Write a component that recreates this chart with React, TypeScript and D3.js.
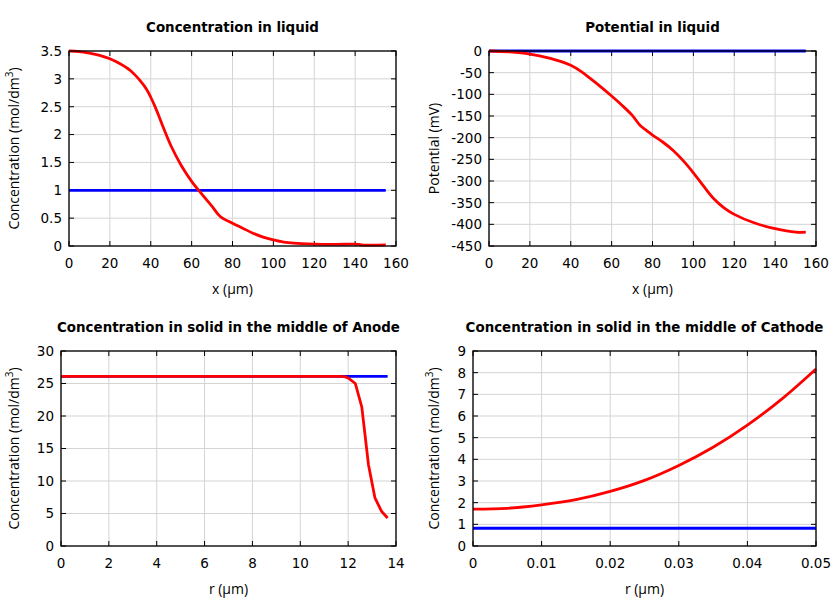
import React from "react";
import * as d3 from "d3";

// ---- Data ----
const liqConcX = [0, 5, 10, 15, 20, 25, 30, 35, 38, 40, 42, 44, 46, 48, 50, 55, 60, 65, 70, 74, 80, 85, 90, 95, 100, 105, 110, 120, 130, 142, 143, 155];
const liqConcRed = [3.5, 3.49, 3.46, 3.42, 3.36, 3.27, 3.15, 2.96, 2.81, 2.67, 2.51, 2.33, 2.14, 1.96, 1.79, 1.44, 1.16, 0.93, 0.71, 0.53, 0.41, 0.32, 0.23, 0.16, 0.11, 0.07, 0.05, 0.035, 0.03, 0.03, 0.02, 0.02];
const liqConcBlueX = [0, 155];
const liqConcBlue = [1.0, 1.0];

const liqPotX = [0, 10, 20, 30, 35, 40, 45, 50, 55, 60, 65, 70, 74, 77, 80, 85, 90, 95, 100, 105, 110, 115, 120, 130, 140, 150, 155];
const liqPotRed = [0, -2, -7, -17, -24, -33, -47, -65, -84, -104, -125, -148, -172, -183, -194, -210, -229, -253, -281, -312, -341, -362, -377, -397, -410, -418, -418];
const liqPotBlueX = [0, 155];
const liqPotBlue = [0, 0];

const anodeX = [0, 2, 4, 6, 8, 10, 11.6, 11.85, 12.0, 12.3, 12.57, 12.85, 13.12, 13.4, 13.65];
const anodeRed = [26.1, 26.1, 26.1, 26.1, 26.1, 26.1, 26.1, 26.05, 25.85, 25.0, 21.4, 12.5, 7.4, 5.3, 4.3];
const anodeBlueX = [0, 13.65];
const anodeBlue = [26.1, 26.1];

const cathX = [0, 0.005, 0.01, 0.015, 0.02, 0.025, 0.03, 0.035, 0.04, 0.045, 0.05];
const cathRed = [1.7, 1.74, 1.9, 2.14, 2.52, 3.03, 3.72, 4.56, 5.58, 6.78, 8.17];
const cathBlueX = [0, 0.05];
const cathBlue = [0.82, 0.82];

const ticksConcLiqY = [0, 0.5, 1, 1.5, 2, 2.5, 3, 3.5];
const ticksLiqX = [0, 20, 40, 60, 80, 100, 120, 140, 160];
const ticksPotY = [0, -50, -100, -150, -200, -250, -300, -350, -400, -450];
const ticksAnodeX = [0, 2, 4, 6, 8, 10, 12, 14];
const ticksAnodeY = [0, 5, 10, 15, 20, 25, 30];
const ticksCathX = [0, 0.01, 0.02, 0.03, 0.04, 0.05];
const ticksCathY = [0, 1, 2, 3, 4, 5, 6, 7, 8, 9];

type Panel = {
  title: string;
  xLabel: string;
  yLabel: string;
  yLabelSup?: boolean;
  x0: number; x1: number; y0: number; y1: number;
  xDomain: [number, number];
  yDomain: [number, number];
  xTicks: number[];
  yTicks: number[];
  redX: number[]; redY: number[];
  blueX: number[]; blueY: number[];
  yLabelX: number;
  smooth: boolean;
};

const panels: Panel[] = [
  {
    title: "Concentration in liquid", xLabel: "x (µm)", yLabel: "Concentration (mol/dm", yLabelSup: true,
    x0: 69, x1: 396, y0: 51, y1: 246, xDomain: [0, 160], yDomain: [0, 3.5],
    xTicks: ticksLiqX, yTicks: ticksConcLiqY,
    redX: liqConcX, redY: liqConcRed, blueX: liqConcBlueX, blueY: liqConcBlue, yLabelX: 14, smooth: true,
  },
  {
    title: "Potential in liquid", xLabel: "x (µm)", yLabel: "Potential (mV)",
    x0: 489, x1: 816, y0: 51, y1: 246, xDomain: [0, 160], yDomain: [-450, 0],
    xTicks: ticksLiqX, yTicks: ticksPotY,
    redX: liqPotX, redY: liqPotRed, blueX: liqPotBlueX, blueY: liqPotBlue, yLabelX: 434, smooth: true,
  },
  {
    title: "Concentration in solid in the middle of Anode", xLabel: "r (µm)", yLabel: "Concentration (mol/dm", yLabelSup: true,
    x0: 61, x1: 396, y0: 351, y1: 546, xDomain: [0, 14], yDomain: [0, 30],
    xTicks: ticksAnodeX, yTicks: ticksAnodeY,
    redX: anodeX, redY: anodeRed, blueX: anodeBlueX, blueY: anodeBlue, yLabelX: 14, smooth: false,
  },
  {
    title: "Concentration in solid in the middle of Cathode", xLabel: "r (µm)", yLabel: "Concentration (mol/dm", yLabelSup: true,
    x0: 473, x1: 816, y0: 351, y1: 546, xDomain: [0, 0.05], yDomain: [0, 9],
    xTicks: ticksCathX, yTicks: ticksCathY,
    redX: cathX, redY: cathRed, blueX: cathBlueX, blueY: cathBlue, yLabelX: 434, smooth: true,
  },
];

const tickFont = "'DejaVu Sans', sans-serif";
const labelFont = "'Open Sans', 'Noto Sans', sans-serif";

function PanelView({ p }: { p: Panel }) {
  const x = d3.scaleLinear().domain(p.xDomain).range([p.x0, p.x1]);
  const y = d3.scaleLinear().domain(p.yDomain).range([p.y1, p.y0]);
  const line = d3
    .line<[number, number]>()
    .x((d) => x(d[0]))
    .y((d) => y(d[1]))
    .curve(p.smooth ? d3.curveCatmullRom.alpha(0.5) : d3.curveLinear);
  const red = p.redX.map((v, i) => [v, p.redY[i]] as [number, number]);
  const blue = p.blueX.map((v, i) => [v, p.blueY[i]] as [number, number]);
  const fmt = (v: number) => String(+v.toFixed(4));
  const tl = 5;
  const cx = (p.x0 + p.x1) / 2;
  const cy = (p.y0 + p.y1) / 2;
  return (
    <g>
      {p.xTicks.map((t) => (
        <line key={"gx" + t} x1={x(t)} x2={x(t)} y1={p.y0} y2={p.y1} stroke="#d4d4d4" strokeWidth={1} />
      ))}
      {p.yTicks.map((t) => (
        <line key={"gy" + t} x1={p.x0} x2={p.x1} y1={y(t)} y2={y(t)} stroke="#d4d4d4" strokeWidth={1} />
      ))}
      {p.xTicks.map((t) => (
        <g key={"tx" + t}>
          <line x1={x(t)} x2={x(t)} y1={p.y1} y2={p.y1 - tl} stroke="#000" strokeWidth={1} />
          <line x1={x(t)} x2={x(t)} y1={p.y0} y2={p.y0 + tl} stroke="#000" strokeWidth={1} />
          <text x={x(t)} y={p.y1 + 22} textAnchor="middle" fontFamily={tickFont} fontSize={13.5} fill="#000">{fmt(t)}</text>
        </g>
      ))}
      {p.yTicks.map((t) => (
        <g key={"ty" + t}>
          <line x1={p.x0} x2={p.x0 + tl} y1={y(t)} y2={y(t)} stroke="#000" strokeWidth={1} />
          <line x1={p.x1} x2={p.x1 - tl} y1={y(t)} y2={y(t)} stroke="#000" strokeWidth={1} />
          <text x={p.x0 - 7} y={y(t)} dy="0.36em" textAnchor="end" fontFamily={tickFont} fontSize={13.5} fill="#000">{fmt(t)}</text>
        </g>
      ))}
      <path d={line(blue) || ""} fill="none" stroke="#0000ff" strokeWidth={2.8} />
      <path d={line(red) || ""} fill="none" stroke="#ff0000" strokeWidth={2.8} />
      <rect x={p.x0} y={p.y0} width={p.x1 - p.x0} height={p.y1 - p.y0} fill="none" stroke="#000" strokeWidth={1.3} />
      <text x={cx} y={p.y0 - 19} textAnchor="middle" fontFamily={tickFont} fontWeight="bold" fontSize={13.4} fill="#000">{p.title}</text>
      <text x={cx} y={p.y1 + 48} textAnchor="middle" fontFamily={labelFont} fontSize={14} fill="#000">{p.xLabel}</text>
      <text transform={`translate(${p.yLabelX + 5},${cy}) rotate(-90)`} textAnchor="middle" fontFamily={labelFont} fontSize={14} fill="#000">
        {p.yLabel}
        {p.yLabelSup ? (
          <>
            <tspan fontSize={10} dy={-6}>3</tspan>
            <tspan dy={6}>)</tspan>
          </>
        ) : null}
      </text>
    </g>
  );
}

export default function App() {
  return (
    <svg width={840} height={600} style={{ position: "absolute", left: 0, top: 0, background: "#fff" }}>
      <rect x={0} y={0} width={840} height={600} fill="#fff" />
      {panels.map((p, i) => (
        <PanelView key={i} p={p} />
      ))}
    </svg>
  );
}
